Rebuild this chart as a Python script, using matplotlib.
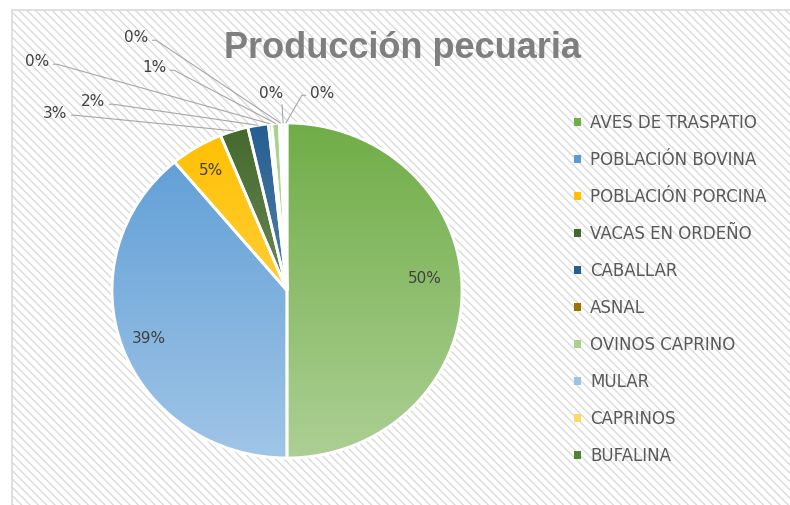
"""
Pie chart of livestock production (Producción pecuaria).
"""
import matplotlib
matplotlib.use('Agg')
import matplotlib.pyplot as plt
import numpy as np
from matplotlib.colors import to_rgb
from matplotlib.patches import Patch, Rectangle

categories = ['AVES DE TRASPATIO', 'POBLACIÓN BOVINA', 'POBLACIÓN PORCINA',
              'VACAS EN ORDEÑO', 'CABALLAR', 'ASNAL', 'OVINOS CAPRINO',
              'MULAR', 'CAPRINOS', 'BUFALINA']
shares = [50.0, 38.9, 4.9, 2.6, 1.9, 0.3, 0.7, 0.2, 0.3, 0.2]
colors = ['#70AD47', '#5B9BD5', '#FFC000', '#43682B', '#255E91',
          '#997300', '#A9D18E', '#9DC3E6', '#FFD966', '#548235']

# label positions (figure pixels from top-left) for the small slices
outside_pos = {3: (55, 113), 4: (93, 102), 5: (37, 62), 6: (154, 68),
               7: (136, 38), 8: (271, 93), 9: (322, 93)}

W, H = 790, 505
fig = plt.figure(figsize=(W / 100, H / 100), dpi=100)
fig.patch.set_facecolor('white')

# hatched chart area with light border
plt.rcParams['hatch.linewidth'] = 1.0
bg = Rectangle((12 / W, -0.05), 1.1, 1 - 10 / H + 0.05, transform=fig.transFigure,
               facecolor='white', edgecolor='#DADADA', hatch='\\\\\\\\', linewidth=1.2,
               zorder=0)
fig.add_artist(bg)

ax = fig.add_axes([112 / W, 47 / H, 350 / W, 335 / H])
ax.patch.set_alpha(0)


def pct_label(p):
    return f'{p:.0f}%' if p >= 4 else ''


wedges, _, autotexts = ax.pie(shares, colors=colors, startangle=90, counterclock=False,
                              autopct=pct_label, pctdistance=0.84,
                              wedgeprops=dict(edgecolor='white', linewidth=2.0),
                              textprops=dict(color='#404040', fontsize=11))
# nudge the big slice's label up a bit
x0, y0 = autotexts[0].get_position()
autotexts[0].set_position((x0 - 0.05, y0 + 0.07))

# vertical gradient fill: base colour at top fading lighter toward the bottom
t = np.linspace(0, 1, 256)[:, None]
for w, c in zip(wedges, colors):
    base = np.array(to_rgb(c))
    grad = base + (1 - base) * 0.42 * t[..., None]
    img = ax.imshow(grad, extent=(-1, 1, -1, 1), origin='upper', aspect='auto',
                    zorder=0.5, interpolation='bilinear')
    img.set_clip_path(w)
    w.set_facecolor('none')

ax.set_xlim(-1, 1)
ax.set_ylim(-1, 1)
ax.set_aspect('auto')
ax.axis('off')

# leader-line labels for the thin slices
for i, (px, py) in outside_pos.items():
    w = wedges[i]
    mid = np.deg2rad((w.theta1 + w.theta2) / 2)
    tip = (np.cos(mid), np.sin(mid))
    if i == 9:
        rel, style = (0.0, 0.35), 'arc,angleA=180,armA=8,angleB=0,armB=0,rad=0'
    elif i == 8:
        rel, style = (0.95, 0.0), 'arc,angleA=-90,armA=2,angleB=0,armB=0,rad=0'
    else:
        rel, style = (1.0, 0.35), 'arc,angleA=0,armA=8,angleB=0,armB=0,rad=0'
    ax.annotate(f'{shares[i]:.0f}%', xy=tip, xycoords='data',
                xytext=(px, H - py), textcoords='figure pixels',
                ha='center', va='center', color='#404040', fontsize=11,
                arrowprops=dict(arrowstyle='-', color='#A6A6A6', lw=0.8,
                                relpos=rel, shrinkA=1, shrinkB=0,
                                connectionstyle=style))

fig.text(402 / W, 1 - 49 / H, 'Producción pecuaria', ha='center', va='center',
         fontsize=26, fontweight='bold', color='#7F7F7F', family='Liberation Sans')

handles = [Patch(facecolor=c, edgecolor='none') for c in colors]
fig.legend(handles, categories, loc='upper left', bbox_to_anchor=(574 / W, 1 - 114 / H),
           frameon=False, fontsize=12, labelspacing=1.14, handlelength=0.42,
           handleheight=0.42, handletextpad=0.55, borderpad=0, borderaxespad=0,
           labelcolor='#595959')

plt.savefig('out.png', dpi=100)
